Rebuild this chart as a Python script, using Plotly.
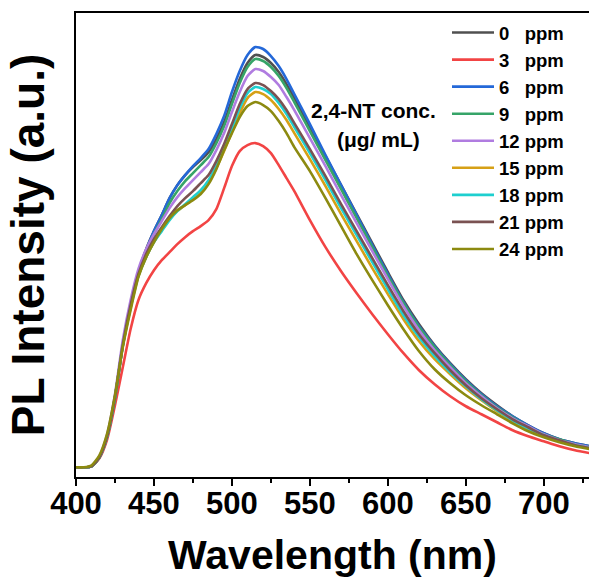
import plotly.graph_objects as go

wavelength = [400, 405, 410, 415, 420, 425, 430, 435, 440, 445, 450, 455, 460, 465, 470, 475,
              480, 485, 490, 495, 500, 505, 510, 515, 520, 525, 530, 535, 540, 550, 560, 570,
              580, 590, 600, 610, 620, 630, 640, 650, 660, 670, 680, 690, 700, 710, 720, 730]

ppm_0 = [0, 0, 1, 10, 31, 70, 123, 163, 195, 218, 236, 252, 269, 282, 292, 300,
         307, 315, 328, 345, 367, 388, 404, 412, 410, 404, 395, 383, 369, 340, 311, 282,
         253, 224, 195, 167, 143, 122, 104, 88, 74, 62, 51, 42, 34, 28, 24, 21]
ppm_3 = [0, 0, 1, 9, 28, 62, 100, 138, 167, 184, 197, 207, 215, 223, 230, 236,
         241, 247, 258, 279, 301, 316, 322, 324, 321, 314, 302, 289, 276, 247, 220, 196,
         174, 153, 133, 114, 97, 83, 71, 61, 53, 45, 37, 31, 26, 21, 17, 14]
ppm_6 = [0, 0, 1, 10, 31, 69, 122, 162, 194, 217, 236, 252, 269, 282, 292, 301,
         309, 318, 333, 351, 375, 396, 412, 420, 418, 411, 401, 388, 373, 343, 312, 282,
         252, 222, 193, 165, 141, 121, 103, 87, 73, 61, 51, 42, 34, 28, 24, 21]
ppm_9 = [0, 0, 1, 10, 31, 70, 123, 163, 195, 217, 233, 248, 264, 276, 286, 294,
         302, 310, 324, 341, 363, 384, 400, 408, 406, 400, 391, 379, 365, 336, 307, 278,
         249, 220, 191, 164, 140, 120, 102, 86, 72, 60, 50, 41, 33, 28, 23, 20]
ppm_12 = [0, 0, 1, 11, 33, 73, 127, 167, 198, 218, 233, 246, 259, 270, 279, 287,
          295, 303, 317, 334, 355, 375, 391, 398, 396, 390, 382, 370, 357, 329, 301, 272,
          244, 216, 188, 161, 137, 117, 100, 84, 71, 59, 49, 41, 33, 27, 23, 20]
ppm_15 = [0, 0, 1, 10, 31, 70, 121, 159, 191, 210, 225, 237, 248, 256, 262, 268,
          275, 285, 299, 316, 335, 354, 369, 375, 373, 367, 358, 347, 334, 308, 281, 253,
          226, 199, 173, 148, 126, 108, 93, 79, 67, 56, 46, 38, 31, 26, 22, 19]
ppm_18 = [0, 0, 1, 10, 31, 70, 121, 160, 191, 210, 225, 236, 247, 256, 263, 270,
          277, 287, 301, 319, 339, 359, 374, 380, 378, 373, 364, 353, 340, 314, 287, 259,
          232, 205, 178, 152, 130, 111, 95, 81, 68, 57, 47, 39, 32, 26, 22, 19]
ppm_21 = [0, 0, 1, 10, 31, 70, 122, 162, 193, 213, 228, 240, 251, 261, 269, 276,
          284, 292, 306, 323, 343, 363, 378, 384, 382, 376, 368, 357, 344, 318, 291, 263,
          236, 209, 182, 156, 133, 114, 97, 82, 69, 58, 48, 40, 32, 27, 22, 19]
ppm_24 = [0, 0, 2, 12, 34, 72, 120, 157, 190, 210, 225, 238, 249, 257, 262, 267,
          273, 283, 298, 317, 334, 350, 361, 365, 362, 356, 346, 334, 320, 296, 269, 241,
          213, 187, 162, 138, 116, 98, 84, 72, 62, 53, 44, 36, 30, 25, 21, 18]

series_names = ["0\u00a0\u00a0\u00a0ppm", "3\u00a0\u00a0\u00a0ppm", "6\u00a0\u00a0\u00a0ppm",
                "9\u00a0\u00a0\u00a0ppm", "12 ppm", "15 ppm", "18 ppm", "21 ppm", "24 ppm"]
series_values = [ppm_0, ppm_3, ppm_6, ppm_9, ppm_12, ppm_15, ppm_18, ppm_21, ppm_24]
colors = ["#505050", "#F24444", "#2468D8", "#36A468", "#B07CE0",
          "#D6A016", "#1ECFCF", "#7A5252", "#8C8A10"]

FONT = "Liberation Sans, Arial, Helvetica, sans-serif"

fig = go.Figure()
for name, vals, col in zip(series_names, series_values, colors):
    fig.add_trace(go.Scatter(x=wavelength, y=vals, mode="lines", name=name,
                             line=dict(color=col, width=2.6, shape="spline", smoothing=0.6)))

L, R, T, B = 76, 589, 13, 477

def px_to_paper(px, py):
    return (px - L) / (R - L), (B - py) / (B - T)

ax1, ay1 = px_to_paper(373, 110)
ax2, ay2 = px_to_paper(378, 139)
lx, ly = px_to_paper(447, 14)

fig.update_layout(
    width=589, height=578,
    margin=dict(l=L, r=589 - R, t=T, b=578 - B),
    paper_bgcolor="white", plot_bgcolor="white",
    font=dict(family=FONT, color="black"),
    showlegend=True,
    legend=dict(x=lx, y=ly, xanchor="left", yanchor="top",
                bgcolor="rgba(0,0,0,0)", borderwidth=0,
                font=dict(family=FONT, size=18.5, color="black", weight="bold"),
                itemwidth=42, tracegroupgap=0),
    xaxis=dict(range=[400, 729], showline=True, linecolor="black", linewidth=2,
               mirror=True, ticks="outside", ticklen=7, tickwidth=2, tickcolor="black",
               dtick=50, tick0=400, showgrid=False, zeroline=False,
               ticklabelstandoff=-9,
               minor=dict(dtick=25, ticks="outside", ticklen=4, tickwidth=2, tickcolor="black"),
               tickfont=dict(family=FONT, size=31, color="black", weight="bold"),
               title=dict(text="Wavelength (nm)", standoff=21,
                          font=dict(family=FONT, size=41, color="black", weight="bold")),
               automargin=False),
    yaxis=dict(range=[-9.7, 454], showline=True, linecolor="black", linewidth=2,
               mirror=False, ticks="", showticklabels=False, showgrid=False, zeroline=False,
               title=dict(text="PL Intensity (a.u.)", standoff=15,
                          font=dict(family=FONT, size=46, color="black", weight="bold")),
               automargin=False),
    annotations=[
        dict(text="2,4-NT conc.", x=ax1, y=ay1, xref="paper", yref="paper",
             xanchor="center", yanchor="middle",
             showarrow=False, font=dict(family=FONT, size=21, color="black", weight="bold")),
        dict(text="(\u03bcg/ mL)", x=ax2, y=ay2, xref="paper", yref="paper",
             xanchor="center", yanchor="middle",
             showarrow=False, font=dict(family=FONT, size=21, color="black", weight="bold")),
    ],
)

fig.write_html("out.html")
